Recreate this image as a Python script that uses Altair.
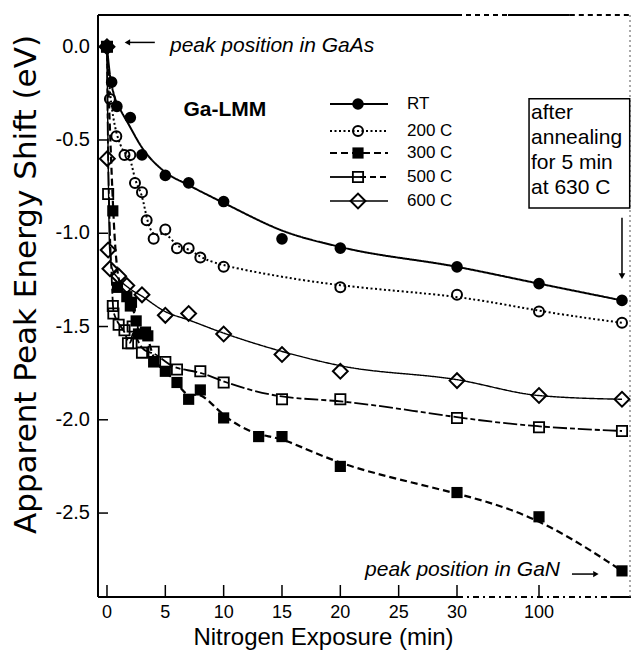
import altair as alt
import pandas as pd

# ---------------- data ----------------
ANNEAL = 170  # slot on the broken x axis used for the annealed sample

SERIES = ["RT", "200 C", "300 C", "500 C", "600 C"]

RT_X = [0, 0.4, 0.85, 2, 3, 5, 7, 10, 15, 20, 30, 100, ANNEAL]
RT_Y = [0, -0.19, -0.32, -0.38, -0.58, -0.69, -0.73, -0.83, -1.03, -1.08, -1.18, -1.27, -1.36]

C200_X = [0, 0.25, 0.8, 1.5, 2, 2.4, 3, 3.4, 4, 5, 6, 7, 8, 10, 20, 30, 100, ANNEAL]
C200_Y = [0, -0.28, -0.48, -0.58, -0.58, -0.73, -0.78, -0.93, -1.03, -0.98, -1.08, -1.08,
          -1.13, -1.18, -1.29, -1.33, -1.42, -1.48]

C300_X = [0, 0.5, 0.9, 1.7, 2, 2.1, 2.5, 2.7, 3.3, 3.5, 4, 5, 6, 7, 8, 10, 13, 15, 20, 30, 100, ANNEAL]
C300_Y = [0, -0.88, -1.29, -1.34, -1.39, -1.37, -1.47, -1.54, -1.53, -1.55, -1.69, -1.74,
          -1.8, -1.89, -1.84, -1.99, -2.09, -2.09, -2.25, -2.39, -2.52, -2.81]

C500_X = [0, 0.1, 0.5, 0.55, 1, 1.5, 1.8, 2.1, 2.2, 3, 4, 5, 6, 8, 10, 15, 20, 30, 100, ANNEAL]
C500_Y = [0, -0.79, -1.39, -1.43, -1.49, -1.52, -1.59, -1.59, -1.5, -1.64, -1.635, -1.69,
          -1.73, -1.74, -1.8, -1.89, -1.89, -1.99, -2.04, -2.06]

C600_X = [0, 0.03, 0.1, 0.25, 1, 1.7, 3, 5, 7, 10, 15, 20, 30, 100, ANNEAL]
C600_Y = [0, -0.6, -1.09, -1.19, -1.23, -1.28, -1.33, -1.44, -1.43, -1.54, -1.65, -1.74,
          -1.79, -1.87, -1.89]

# smooth fitted curves of RT and 600 C
RT_FIT_X = [0, 0.23, 0.66, 1.09, 1.8, 2.94, 4.94, 6.94, 10.09, 15.2, 20.1, 30, 100, ANNEAL]
RT_FIT_Y = [0, -0.14, -0.27, -0.33, -0.41, -0.535, -0.67, -0.74, -0.84, -0.99, -1.075, -1.18,
            -1.27, -1.36]
C600_FIT_X = [0, 0.1, 0.23, 0.45, 0.94, 1.8, 2.94, 5.0, 7.0, 10.03, 15.08, 20, 30, 100, ANNEAL]
C600_FIT_Y = [0, -0.6, -1.09, -1.19, -1.24, -1.29, -1.335, -1.42, -1.465, -1.536, -1.635, -1.71,
              -1.785, -1.87, -1.89]

X_TICKS = [0, 5, 10, 15, 20, 25, 30, 100]
X_LABELS = ["0", "5", "10", "15", "20", "25", "30", "100"]
Y_TICKS = [0.0, -0.5, -1.0, -1.5, -2.0, -2.5]
Y_LABELS = ["0.0", "-0.5", "-1.0", "-1.5", "-2.0", "-2.5"]

X_TITLE = "Nitrogen Exposure (min)"
Y_TITLE = "Apparent Peak Energy Shift (eV)"

# ---------------- styling ----------------
FONT = "Liberation Sans"
W, H = 533, 582
X_END = 177.6

X_SCALE = alt.Scale(domain=[-0.77, 30, 100, X_END], range=[0, 359, 441, W], zero=False, nice=False)
Y_SCALE = alt.Scale(domain=[-2.95, 0.17], zero=False, nice=False)

STYLE = {
    "RT":    dict(dash=[1, 0], width=2.0, shape="circle", filled=True, size=135, sw=1),
    "200 C": dict(dash=[2, 2.5], width=2.0, shape="circle", filled=False, size=100, sw=2),
    "300 C": dict(dash=[7, 4], width=2.2, shape="square", filled=True, size=125, sw=1),
    "500 C": dict(dash=[14, 3, 5, 3], width=1.8, shape="square", filled=False, size=105, sw=1.8),
    "600 C": dict(dash=[1, 0], width=1.4, shape="diamond", filled=False, size=220, sw=2),
}
DATA = {
    "RT": (RT_X, RT_Y),
    "200 C": (C200_X, C200_Y),
    "300 C": (C300_X, C300_Y),
    "500 C": (C500_X, C500_Y),
    "600 C": (C600_X, C600_Y),
}
CURVES = {
    "RT": (RT_FIT_X, RT_FIT_Y, "monotone"),
    "200 C": (C200_X, C200_Y, "basis"),
    "300 C": (C300_X, C300_Y, "basis"),
    "500 C": (C500_X, C500_Y, "basis"),
    "600 C": (C600_FIT_X, C600_FIT_Y, "monotone"),
}


def X(field="x"):
    return alt.X(f"{field}:Q", scale=X_SCALE, axis=None)


def Y(field="y"):
    return alt.Y(f"{field}:Q", scale=Y_SCALE, axis=None)


one = pd.DataFrame({"a": [0]})
layers = []

# ---- axes drawn by hand: inward ticks, labels, titles ----
layers.append(
    alt.Chart(pd.DataFrame({"y": Y_TICKS})).mark_rule(color="black", strokeWidth=1.5)
    .encode(y=Y(), x=alt.value(0), x2=alt.value(10))
)
layers.append(
    alt.Chart(pd.DataFrame({"x": X_TICKS})).mark_rule(color="black", strokeWidth=1.5)
    .encode(x=X(), y=alt.value(H), y2=alt.value(H - 12))
)
layers.append(
    alt.Chart(pd.DataFrame({"y": Y_TICKS, "t": Y_LABELS}))
    .mark_text(font=FONT, fontSize=20, align="right", baseline="middle", color="black")
    .encode(y=Y(), x=alt.value(-8), text="t:N")
)
layers.append(
    alt.Chart(pd.DataFrame({"x": X_TICKS, "t": X_LABELS}))
    .mark_text(font=FONT, fontSize=18, align="center", baseline="middle", color="black")
    .encode(x=X(), y=alt.value(H + 16), text="t:N")
)
layers.append(
    alt.Chart(one).mark_text(text=Y_TITLE, font="DejaVu Sans", fontSize=31, angle=270,
                             align="center", baseline="alphabetic", color="black")
    .encode(x=alt.value(-62), y=alt.value(269.5))
)
layers.append(
    alt.Chart(one).mark_text(text=X_TITLE, font=FONT, fontSize=24,
                             align="center", baseline="alphabetic", color="black")
    .encode(x=alt.value(225.5), y=alt.value(H + 48))
)

# ---- broken frame: solid and dashed segments ----
solid_top = pd.DataFrame({"x": [-0.77, 73.5], "x2": [30, 126]})
dash_top = pd.DataFrame({"x": [30, 126], "x2": [73.5, X_END]})
solid_bot = pd.DataFrame({"x": [-0.77, 160], "x2": [30, X_END]})
dash_bot = pd.DataFrame({"x": [30], "x2": [160]})
layers.append(alt.Chart(one).mark_rule(color="black", strokeWidth=2)
              .encode(x=alt.value(0), y=alt.value(0), y2=alt.value(H)))
layers.append(alt.Chart(solid_top).mark_rule(color="black", strokeWidth=2)
              .encode(x=X(), x2="x2:Q", y=alt.value(0)))
layers.append(alt.Chart(dash_top).mark_rule(color="black", strokeWidth=2, strokeDash=[5, 4])
              .encode(x=X(), x2="x2:Q", y=alt.value(0)))
layers.append(alt.Chart(solid_bot).mark_rule(color="black", strokeWidth=2)
              .encode(x=X(), x2="x2:Q", y=alt.value(H)))
layers.append(alt.Chart(dash_bot).mark_rule(color="black", strokeWidth=2, strokeDash=[6, 4, 2, 4])
              .encode(x=X(), x2="x2:Q", y=alt.value(H)))
layers.append(alt.Chart(one).mark_rule(color="#555", strokeWidth=1, strokeDash=[2, 3])
              .encode(x=alt.value(W - 1), y=alt.value(0), y2=alt.value(H)))

# ---- series: curves + markers ----
for name in SERIES:
    xs, ys, interp = CURVES[name]
    st = STYLE[name]
    df = pd.DataFrame({"x": xs, "y": ys})
    layers.append(
        alt.Chart(df).mark_line(interpolate=interp, color="black", strokeWidth=st["width"],
                                strokeDash=st["dash"])
        .encode(x=X(), y=Y())
    )
for name in SERIES:
    xs, ys = DATA[name]
    st = STYLE[name]
    df = pd.DataFrame({"x": xs, "y": ys})
    layers.append(
        alt.Chart(df).mark_point(shape=st["shape"], filled=st["filled"], size=st["size"],
                                 strokeWidth=st["sw"], color="black", opacity=1)
        .encode(x=X(), y=Y())
    )

# ---- legend (drawn by hand, as in the original) ----
LEG_Y = [89, 116, 138, 162, 186]
for name, ly in zip(SERIES, LEG_Y):
    st = STYLE[name]
    if name == "500 C":
        layers.append(alt.Chart(one).mark_rule(color="black", strokeWidth=st["width"])
                      .encode(x=alt.value(232), x2=alt.value(262), y=alt.value(ly)))
        layers.append(alt.Chart(one).mark_rule(color="black", strokeWidth=st["width"], strokeDash=[6, 4])
                      .encode(x=alt.value(262), x2=alt.value(290), y=alt.value(ly)))
    else:
        layers.append(alt.Chart(one).mark_rule(color="black", strokeWidth=st["width"], strokeDash=st["dash"])
                      .encode(x=alt.value(232), x2=alt.value(290), y=alt.value(ly)))
    layers.append(alt.Chart(one).mark_point(shape=st["shape"], filled=st["filled"], size=st["size"],
                                            strokeWidth=st["sw"], color="black", opacity=1)
                  .encode(x=alt.value(260), y=alt.value(ly)))
    layers.append(alt.Chart(one).mark_text(text=name, font=FONT, fontSize=17, align="left",
                                           baseline="middle", color="black")
                  .encode(x=alt.value(309), y=alt.value(ly)))

# ---- annotations ----
layers.append(alt.Chart(pd.DataFrame({"x": [5.4], "y": [0.0]}))
              .mark_text(text="peak position in GaAs", font=FONT, fontSize=21, fontStyle="italic",
                         align="left", baseline="middle", color="black", dy=-1)
              .encode(x=X(), y=Y()))
layers.append(alt.Chart(pd.DataFrame({"x": [1.9], "x2": [4.1], "y": [0.023]}))
              .mark_rule(color="black", strokeWidth=1.5).encode(x=X(), x2="x2:Q", y=Y()))
layers.append(alt.Chart(pd.DataFrame({"x": [1.75], "y": [0.023]}))
              .mark_point(shape="triangle-left", filled=True, size=40, color="black", opacity=1)
              .encode(x=X(), y=Y()))

layers.append(alt.Chart(pd.DataFrame({"x": [117.7], "y": [-2.806]}))
              .mark_text(text="peak position in GaN", font=FONT, fontSize=21, fontStyle="italic",
                         align="right", baseline="middle", color="black")
              .encode(x=X(), y=Y()))
layers.append(alt.Chart(pd.DataFrame({"x": [127.8], "x2": [146], "y": [-2.827]}))
              .mark_rule(color="black", strokeWidth=1.5).encode(x=X(), x2="x2:Q", y=Y()))
layers.append(alt.Chart(pd.DataFrame({"x": [148], "y": [-2.827]}))
              .mark_point(shape="triangle-right", filled=True, size=40, color="black", opacity=1)
              .encode(x=X(), y=Y()))

layers.append(alt.Chart(pd.DataFrame({"x": [10.1], "y": [-0.338]}))
              .mark_text(text="Ga-LMM", font=FONT, fontSize=21, fontWeight="bold",
                         align="center", baseline="middle", color="black")
              .encode(x=X(), y=Y()))

layers.append(alt.Chart(pd.DataFrame({"x": [91.5], "x2": [176.5], "y": [-0.279], "y2": [-0.864]}))
              .mark_rect(fill=None, fillOpacity=0, stroke="black", strokeWidth=1.5)
              .encode(x=X(), x2="x2:Q", y=Y(), y2="y2:Q"))
layers.append(alt.Chart(pd.DataFrame({"x": [93.2], "y": [-0.354]}))
              .mark_text(text="after\nannealing\nfor 5 min\nat 630 C", lineBreak="\n", lineHeight=25,
                         font=FONT, fontSize=21, align="left", baseline="middle", color="black")
              .encode(x=X(), y=Y()))
layers.append(alt.Chart(pd.DataFrame({"x": [ANNEAL], "y": [-0.917], "y2": [-1.22]}))
              .mark_rule(color="black", strokeWidth=1.5).encode(x=X(), y=Y(), y2="y2:Q"))
layers.append(alt.Chart(pd.DataFrame({"x": [ANNEAL], "y": [-1.23]}))
              .mark_point(shape="triangle-down", filled=True, size=45, color="black", opacity=1)
              .encode(x=X(), y=Y()))

chart = (
    alt.layer(*layers)
    .properties(width=W, height=H, autosize=alt.AutoSizeParams(type="none"),
                padding={"left": 90, "top": 7, "right": 0, "bottom": 54},
                background="white")
    .configure_view(stroke=None)
)

chart.save("out.html", embed_options={"renderer": "svg", "actions": False})
